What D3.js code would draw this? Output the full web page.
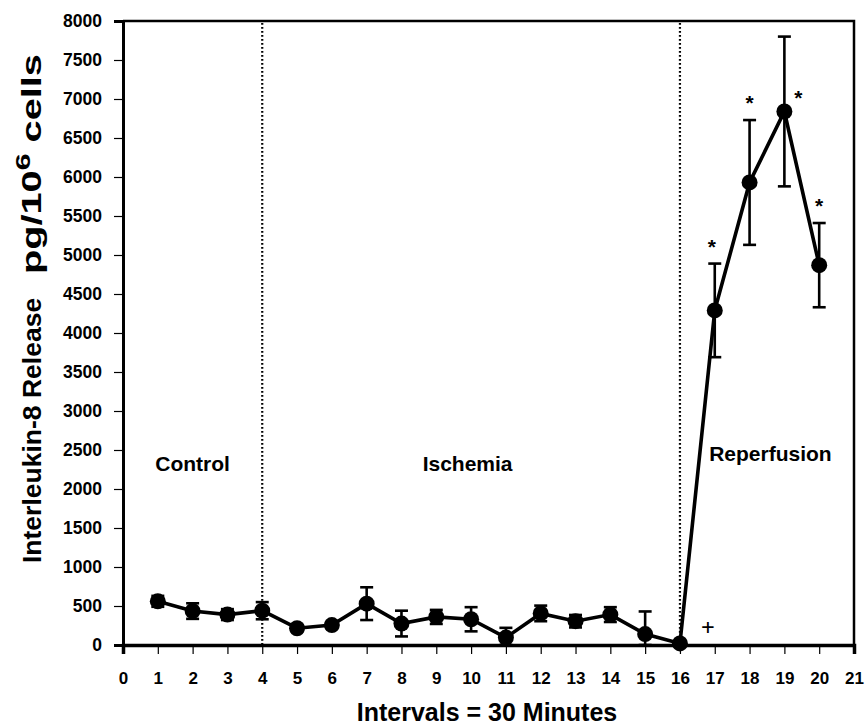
<!DOCTYPE html>
<html>
<head>
<meta charset="utf-8">
<script src="https://cdn.jsdelivr.net/npm/d3@7"></script>
<style>
  html, body { margin: 0; padding: 0; background: #fff; }
  svg { display: block; font-family: "Liberation Sans", Arial, sans-serif; }
</style>
</head>
<body>
<svg id="chart" width="865" height="728"></svg>
<script>
// IL-8 release per interval (mean ± SEM)
const intervals = [1, 2, 3, 4, 5, 6, 7, 8, 9, 10, 11, 12, 13, 14, 15, 16, 17, 18, 19, 20];
const il8Mean   = [560, 435, 390, 440, 215, 255, 530, 275, 360, 330, 95, 405, 305, 390, 140, 20, 4290, 5930, 6840, 4870];
const il8Err    = [70, 100, 70, 110, 40, 40, 210, 165, 90, 155, 125, 100, 80, 95, 290, 20, 600, 800, 960, 540];
const significant = [17, 18, 19, 20];
const xTicks = d3.range(0, 22);
const yTicks = d3.range(0, 8001, 500);
const phaseLines = [4, 16];
const phases = [
  { name: "Control", x: 2.0 },
  { name: "Ischemia", x: 9.9 },
  { name: "Reperfusion", x: 18.6 }
];

const svg = d3.select("#chart");
const plotL = 123, plotR = 854, plotT = 21, plotB = 645;

const x = d3.scaleLinear().domain([0, 21]).range([plotL, plotR]);
const y = d3.scaleLinear().domain([0, 8000]).range([plotB, plotT]);

// frame (top and right)
svg.append("path")
  .attr("d", `M${plotL},${plotT}H${plotR}V${plotB}`)
  .attr("fill", "none").attr("stroke", "#000").attr("stroke-width", 2.5);

// phase separators
svg.selectAll(".phase-line").data(phaseLines).join("line")
  .attr("x1", d => x(d)).attr("x2", d => x(d))
  .attr("y1", plotT + 2).attr("y2", plotB)
  .attr("stroke", "#000").attr("stroke-width", 2.2)
  .attr("stroke-dasharray", "1.8,2.2");

// y axis
const yAxis = svg.append("g").attr("transform", `translate(${plotL},0)`)
  .call(d3.axisLeft(y).tickValues(yTicks).tickSize(9).tickPadding(12).tickFormat(d3.format("d")));
yAxis.select(".domain").attr("stroke-width", 3);
yAxis.selectAll(".tick line").attr("stroke-width", 1.2);
yAxis.selectAll("text").attr("font-size", 17.5).attr("font-weight", "bold").attr("fill", "#000")
  .attr("font-family", "Liberation Sans, Arial, sans-serif");

// x axis
const xAxis = svg.append("g").attr("transform", `translate(0,${plotB})`)
  .call(d3.axisBottom(x).tickValues(xTicks).tickSize(9).tickPadding(18).tickFormat(d3.format("d")));
xAxis.select(".domain").attr("stroke-width", 3.5);
xAxis.selectAll(".tick line").attr("stroke-width", 1.2);
xAxis.selectAll("text").attr("font-size", 17).attr("font-weight", "bold").attr("fill", "#000")
  .attr("font-family", "Liberation Sans, Arial, sans-serif");

// axis titles
svg.append("text")
  .attr("x", 487).attr("y", 721)
  .attr("text-anchor", "middle").attr("font-size", 25).attr("font-weight", "bold")
  .text("Intervals = 30 Minutes");

// y title in two runs: quantity, then unit
svg.append("text")
  .attr("transform", "translate(41,563) rotate(-90)")
  .attr("text-anchor", "start").attr("font-size", 26.5).attr("font-weight", "bold")
  .text("Interleukin-8 Release");

const unitG = svg.append("g");
const unit = unitG.append("text")
  .attr("text-anchor", "start").attr("font-size", 27.5).attr("font-weight", "bold");
unit.append("tspan").text("pg/10");
unit.append("tspan").attr("dy", -11).attr("font-size", 21).text("6");
unit.append("tspan").attr("dy", 11).text(" cells");
const unitLen = unit.node().getComputedTextLength();
unitG.attr("transform", `translate(41,274) rotate(-90) scale(${220 / unitLen},1)`);

// phase labels
svg.selectAll(".phase").data(phases).join("text")
  .attr("x", d => x(d.x)).attr("y", d => d.name === "Reperfusion" ? 461 : 471)
  .attr("text-anchor", "middle").attr("font-size", 21).attr("font-weight", "bold")
  .text(d => d.name);

const data = intervals.map((t, i) => ({ t, m: il8Mean[i], e: il8Err[i] }));

// error bars
const eb = svg.append("g").attr("stroke", "#000").attr("stroke-width", 2.6);
data.forEach(d => {
  const lo = Math.max(0, d.m - d.e), hi = d.m + d.e;
  eb.append("line").attr("x1", x(d.t)).attr("x2", x(d.t)).attr("y1", y(lo)).attr("y2", y(hi));
  eb.append("line").attr("x1", x(d.t) - 6.5).attr("x2", x(d.t) + 6.5).attr("y1", y(hi)).attr("y2", y(hi));
  eb.append("line").attr("x1", x(d.t) - 6.5).attr("x2", x(d.t) + 6.5).attr("y1", y(lo)).attr("y2", y(lo));
});

// mean line
svg.append("path").datum(data)
  .attr("fill", "none").attr("stroke", "#000").attr("stroke-width", 3.6)
  .attr("d", d3.line().x(d => x(d.t)).y(d => y(d.m)));

// markers
svg.selectAll(".pt").data(data).join("circle")
  .attr("cx", d => x(d.t)).attr("cy", d => y(d.m)).attr("r", 8).attr("fill", "#000");

// significance stars
const starDx = { 17: -3, 18: 0, 19: 14, 20: 0 };
svg.selectAll(".star").data(data.filter(d => significant.includes(d.t))).join("text")
  .attr("x", d => x(d.t) + starDx[d.t])
  .attr("y", d => d.t === 19 ? y(d.m) - 6 : y(d.m + d.e) - 10)
  .attr("text-anchor", "middle").attr("font-size", 21).attr("font-weight", "bold")
  .text("*");

// marker after interval 16
svg.append("text")
  .attr("x", x(16.8)).attr("y", 634)
  .attr("text-anchor", "middle").attr("font-size", 22).attr("font-weight", "normal")
  .attr("font-family", "DejaVu Sans Mono, monospace")
  .text("+");
</script>
</body>
</html>
